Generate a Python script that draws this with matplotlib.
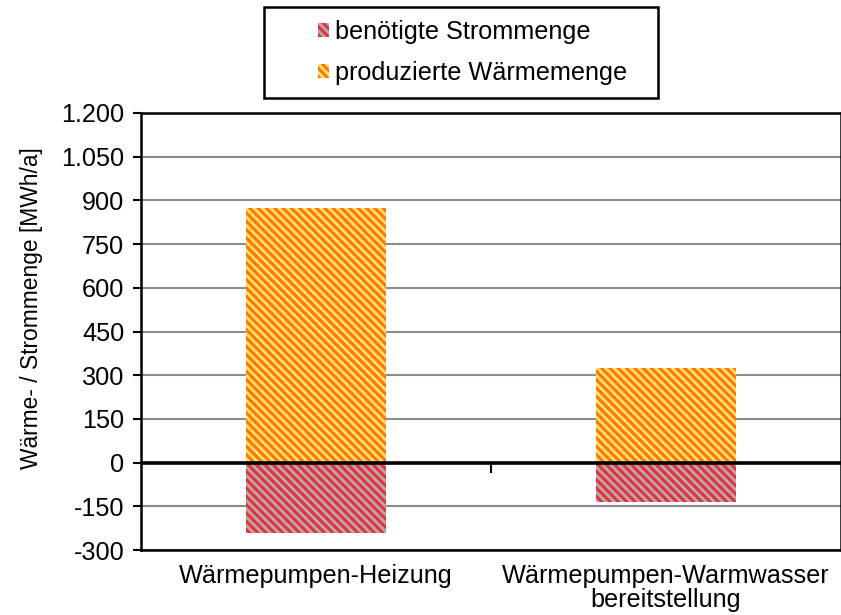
import matplotlib
matplotlib.use("Agg")
import matplotlib.pyplot as plt
from matplotlib.ticker import FuncFormatter, MultipleLocator
from matplotlib.patches import Rectangle, Patch

plt.rcParams['font.family'] = ['Liberation Sans', 'DejaVu Sans']
plt.rcParams['hatch.linewidth'] = 2.2

categories = ["Wärmepumpen-Heizung", "Wärmepumpen-Warmwasser\nbereitstellung"]
strom = [-240, -135]
waerme = [875, 325]
series_labels = ["benötigte Strommenge", "produzierte Wärmemenge"]

FS = 18.2
fig = plt.figure(figsize=(8.41, 6.15), dpi=100)
ax = fig.add_axes([141/841, 1-550/615, 1-141/841, (550-113)/615])

x = list(range(len(categories)))
red_face, red_hatch = "#B8A8AA", "#E5323C"
or_face, or_hatch = "#FFE070", "#FF7800"
HATCH = "\\\\\\\\"

ax.bar(x, strom, width=0.4, facecolor=red_face, edgecolor=red_hatch, hatch=HATCH, linewidth=0, zorder=3)
ax.bar(x, waerme, width=0.4, facecolor=or_face, edgecolor=or_hatch, hatch=HATCH, linewidth=0, zorder=3)

ax.set_xlim(-0.5, 1.5)
ax.set_ylim(-300, 1200)
ax.yaxis.set_major_locator(MultipleLocator(150))
ax.yaxis.set_major_formatter(FuncFormatter(lambda v, p: f"{int(round(v)):,}".replace(",", ".")))
ax.set_xticks(x)
ax.set_xticklabels(categories, fontsize=FS, linespacing=1.0)
ax.tick_params(axis='x', length=0, pad=10)
ax.tick_params(axis='y', labelsize=FS, length=6, width=1.5, direction='out', pad=6)
ax.grid(axis='y', color='#8C8C8C', linewidth=1.5, zorder=0)
ax.set_axisbelow(True)
for s in ['left', 'top', 'bottom', 'right']:
    ax.spines[s].set_color('black')
    ax.spines[s].set_linewidth(1.8)

# category axis crossing at zero
ax.axhline(0, color='black', linewidth=2.6, zorder=5)
sec = ax.secondary_xaxis(300/1500)
sec.set_xticks([0.5])
sec.set_xticklabels([""])
sec.tick_params(length=7, width=1.5, direction='out', color='black')
sec.spines['bottom'].set_visible(False)

ax.set_ylabel("Wärme- / Strommenge [MWh/a]", fontsize=16.4)
ax.yaxis.set_label_coords(-0.14, (550-308)/437)

# legend
fig.patches.append(Rectangle((264/841, 1-98/615), (658-264)/841, (98-7)/615,
                             transform=fig.transFigure, fill=False, edgecolor='black', linewidth=1.8))
handles = [Patch(facecolor=red_face, edgecolor=red_hatch, hatch=HATCH, linewidth=0),
           Patch(facecolor=or_face, edgecolor=or_hatch, hatch=HATCH, linewidth=0)]
fig.legend(handles, series_labels, loc='upper left', bbox_to_anchor=(318/841, 1-20/615),
           frameon=False, fontsize=FS, handlelength=0.45, handleheight=0.5, handletextpad=0.22,
           labelspacing=0.68, borderpad=0, borderaxespad=0)

fig.savefig("out.png", dpi=100)
